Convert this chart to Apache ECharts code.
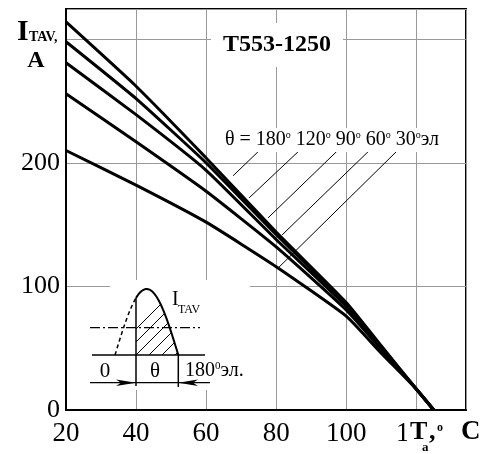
<!DOCTYPE html>
<html>
<head>
<meta charset="utf-8">
<script src="https://cdn.jsdelivr.net/npm/echarts@6/dist/echarts.min.js"></script>
<style>
html, body { margin: 0; padding: 0; background: #fff; }
#chart { width: 498px; height: 454px; }
</style>
</head>
<body>
<div id="chart"></div>
<script>
// ambient temperature, degC
const temps = [20, 40, 60, 80, 100, 110, 120, 125]
// average on-state current, A, for each conduction angle
const cur180 = [314, 262, 204, 144, 87, 52, 17, 0]
const cur120 = [298, 252, 200, 142, 86, 51, 17, 0]
const cur90 = [281, 239, 194, 138, 84, 50, 17, 0]
const cur60 = [256, 217, 177, 132, 81, 49, 17, 0]
const cur30 = [210, 182, 152, 116, 76, 46, 17, 0]
const angleNames = ['180', '120', '90', '60', '30']
const xTicks = [20, 40, 60, 80, 100, 120]
const yTicks = [0, 100, 200]
// leader lines from the angle labels down to the curves (data units)
const leaderFrom = [[76.3, 213], [87.4, 212], [98.3, 212], [107.7, 213], [116.3, 214.6]]
const leaderTo = [[67.7, 189.5], [72.3, 171.7], [77.7, 155.5], [81.7, 141.7], [80.6, 115]]

const serif = '"Liberation Serif", "Times New Roman", serif'
const chart = echarts.init(document.getElementById('chart'))

const curves = [cur180, cur120, cur90, cur60, cur30]
const curveSeries = curves.map((arr, k) => ({
  name: angleNames[k],
  type: 'line',
  data: temps.map((t, i) => [t, arr[i]]),
  symbol: 'none',
  smooth: 0.15,
  lineStyle: { color: '#000', width: 3 },
  z: 3
}))

const leaderSeries = {
  type: 'lines',
  coordinateSystem: 'cartesian2d',
  silent: true,
  data: leaderFrom.map((p, i) => ({ coords: [p, leaderTo[i]] })),
  lineStyle: { color: '#000', width: 1, opacity: 1 },
  z: 4
}

const txt = (x, y, text, font, align, extra) => ({
  type: 'text',
  z: 20,
  style: Object.assign({
    x: x, y: y, text: text, font: font, fill: '#000',
    align: align || 'left', verticalAlign: 'middle'
  }, extra || {})
})

// inset sketch of the half-sine current waveform
const x0 = 115, x1 = 178.3, base = 355, amp = 66, cut = 136
const sineY = x => base - amp * Math.sin(Math.PI * (x - x0) / (x1 - x0))
const dashPts = [], solidPts = []
for (let x = x0; x <= cut; x += 1) dashPts.push([x, sineY(x)])
dashPts.push([cut, sineY(cut)])
for (let x = cut; x <= x1; x += 1) solidPts.push([x, sineY(x)])
solidPts.push([x1, base])

const hatch = []
for (let c = 110; c <= 176; c += 13) {
  const xs = Math.max(cut, c)
  let xe = xs
  while (xe + 0.5 < x1 && (xe + 0.5 - c) <= base - sineY(xe + 0.5)) xe += 0.5
  if (xe - xs > 1) {
    hatch.push({
      type: 'line', z: 15,
      shape: { x1: xs, y1: base - (xs - c), x2: xe, y2: base - (xe - c) },
      style: { stroke: '#000', lineWidth: 1 }
    })
  }
}

const seg = (a, b, c, d, w, dash) => ({
  type: 'line', z: 15,
  shape: { x1: a, y1: b, x2: c, y2: d },
  style: { stroke: '#000', lineWidth: w, lineDash: dash || null }
})

const inset = [
  { type: 'rect', z: 1, shape: { x: 110, y: 280, width: 140, height: 110 }, style: { fill: '#fff' } },
  seg(92, base, 205, base, 1.5),
  seg(90, 327.7, 200, 327.7, 1.2, [10, 3, 2, 3]),
  { type: 'polyline', z: 15, shape: { points: dashPts }, style: { stroke: '#000', lineWidth: 1.5, lineDash: [4, 3], fill: null } },
  { type: 'polyline', z: 15, shape: { points: solidPts }, style: { stroke: '#000', lineWidth: 2, fill: null } },
  seg(cut, sineY(cut), cut, 386, 1.5),
  seg(x1, base, x1, 387, 1.5),
  seg(90, 382.7, 210, 382.7, 1.2),
  { type: 'polygon', z: 15, shape: { points: [[cut, 382.7], [116, 379.5], [121, 382.7], [116, 386]] }, style: { fill: '#000' } },
  { type: 'polygon', z: 15, shape: { points: [[x1, 382.7], [198, 379.5], [193, 382.7], [198, 386]] }, style: { fill: '#000' } },
  txt(172, 300, 'I', '20px ' + serif),
  txt(178, 310, 'TAV', '12px ' + serif),
  txt(105, 371, '0', '21px ' + serif, 'center'),
  txt(155, 371, 'θ', '21px ' + serif, 'center'),
  txt(185, 371, '180{s|0}эл.', '20px ' + serif, 'left', {
    rich: { s: { fontSize: 11, fontFamily: serif, verticalAlign: 'top', fill: '#000' } }
  })
].concat(hatch)

const labels = [
  // axis names
  txt(17, 32, 'I', 'bold 30px ' + serif),
  txt(29, 37, 'TAV,', 'bold 14px ' + serif),
  txt(36, 61, 'A', 'bold 24px ' + serif, 'center'),
  { type: 'rect', z: 18, shape: { x: 407, y: 413, width: 91, height: 41 }, style: { fill: '#fff' } },
  txt(410, 432, 'T', 'bold 26px ' + serif),
  txt(422, 448, 'a', 'bold 13px ' + serif),
  txt(429, 432, ',', 'bold 26px ' + serif),
  txt(437, 428, 'o', 'bold 12px ' + serif),
  txt(461, 432, 'C', 'bold 27px ' + serif),
  // device type
  txt(277, 45, 'T553-1250', 'bold 24px ' + serif, 'center', { backgroundColor: '#fff', padding: [10, 12] }),
  // conduction angle labels
  txt(225, 140, 'θ = ' + angleNames.map((a, i) => a + '{o|o}' + (i < 4 ? ' ' : '')).join('') + 'эл', '20px ' + serif, 'left', {
    backgroundColor: '#fff', padding: [2, 0],
    rich: { o: { fontSize: 10, fontFamily: serif, verticalAlign: 'top', fill: '#000' } }
  })
]

const option = {
  animation: false,
  backgroundColor: '#fff',
  grid: {
    left: 66, right: 32, top: 9, bottom: 44,
    show: true, borderColor: '#000', borderWidth: 2
  },
  xAxis: {
    type: 'value',
    min: 20, max: 134.2, interval: 20,
    axisLine: { lineStyle: { color: '#000', width: 2 } },
    axisTick: { show: false },
    axisLabel: {
      color: '#000', fontSize: 27, fontFamily: serif, margin: 10,
      formatter: v => xTicks.includes(v) ? String(v) : ''
    },
    splitLine: { lineStyle: { color: '#999', width: 1 } }
  },
  yAxis: {
    type: 'value',
    min: 0, max: 324.5, interval: 100,
    axisLine: { lineStyle: { color: '#000', width: 2 } },
    axisTick: { show: false },
    axisLabel: {
      color: '#000', fontSize: 26, fontFamily: serif, margin: 6,
      formatter: v => yTicks.includes(v) ? String(v) : ''
    },
    splitLine: { lineStyle: { color: '#999', width: 1 } }
  },
  series: curveSeries.concat([leaderSeries]),
  graphic: { elements: inset.concat(labels) }
}

chart.setOption(option)
</script>
</body>
</html>
